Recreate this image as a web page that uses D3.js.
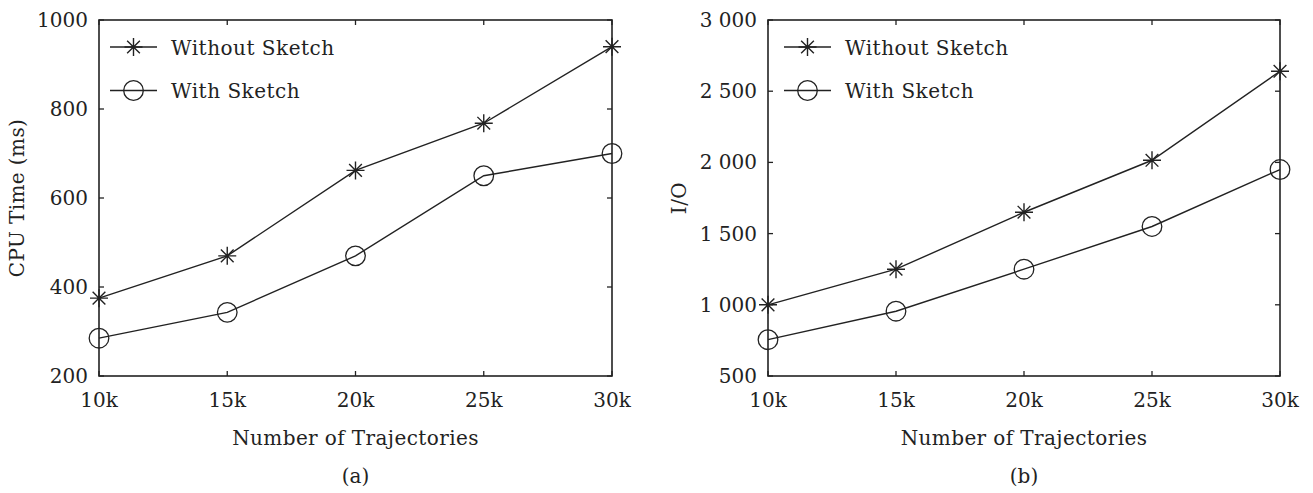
<!DOCTYPE html>
<html>
<head>
<meta charset="utf-8">
<script src="https://cdn.jsdelivr.net/npm/d3@7"></script>
<style>
  body { margin: 0; background: #fff; }
  svg { display: block; }
</style>
</head>
<body>
<div class="container"></div>
<script>
// data
const trajectories = [10, 15, 20, 25, 30]; // thousands
const cpuWithout = [375, 470, 662, 768, 940];
const cpuWith = [285, 343, 470, 650, 700];
const ioWithout = [1000, 1250, 1650, 2015, 2640];
const ioWith = [755, 955, 1250, 1550, 1950];
const cpuTicks = [200, 400, 600, 800, 1000];
const ioTicks = [500, 1000, 1500, 2000, 2500, 3000];
const xTicks = [10, 15, 20, 25, 30];
const seriesNames = ["Without Sketch", "With Sketch"];

const width = 1313;
const height = 493;
const ink = "#222";
const font = "'DejaVu Serif', 'Liberation Serif', serif";

const svg = d3.select(".container")
  .append("svg")
  .attr("width", width)
  .attr("height", height)
  .attr("font-family", font)
  .attr("fill", ink);

// numbers with a space between thousands, like "2 500"
const spaced = d3.formatLocale({ decimal: ".", thousands: " ", grouping: [3], currency: ["", ""] }).format(",d");

const panels = [
  {
    left: 99, right: 612, top: 20, bottom: 376,
    yDomain: [200, 1000], yTicks: cpuTicks, yFormat: d3.format("d"),
    series: [cpuWithout, cpuWith], yLabel: "CPU Time (ms)", yLabelX: 17,
    caption: "(a)", legendX: 110
  },
  {
    left: 768, right: 1280, top: 20, bottom: 376,
    yDomain: [500, 3000], yTicks: ioTicks, yFormat: spaced,
    series: [ioWithout, ioWith], yLabel: "I/O", yLabelX: 679,
    caption: "(b)", legendX: 784
  }
];

function starPath(r) {
  const d = r * Math.SQRT1_2;
  return `M${-r},0L${r},0M0,${-r}L0,${r}M${-d},${-d}L${d},${d}M${-d},${d}L${d},${-d}`;
}

function drawMarker(g, kind, x, y) {
  if (kind === 0) {
    g.append("path")
      .attr("transform", `translate(${x},${y})`)
      .attr("d", starPath(9))
      .attr("stroke", ink)
      .attr("stroke-width", 1.4)
      .attr("fill", "none");
  } else {
    g.append("circle")
      .attr("cx", x)
      .attr("cy", y)
      .attr("r", 9.8)
      .attr("stroke", ink)
      .attr("stroke-width", 1.3)
      .attr("fill", "none");
  }
}

panels.forEach((p) => {
  const g = svg.append("g");
  const x = d3.scaleLinear().domain([10, 30]).range([p.left, p.right]);
  const y = d3.scaleLinear().domain(p.yDomain).range([p.bottom, p.top]);
  const tick = 5;

  // frame
  g.append("rect")
    .attr("x", p.left)
    .attr("y", p.top)
    .attr("width", p.right - p.left)
    .attr("height", p.bottom - p.top)
    .attr("fill", "none")
    .attr("stroke", ink)
    .attr("stroke-width", 1.6);

  // inward ticks on all four sides
  const ticks = g.append("g").attr("stroke", ink).attr("stroke-width", 1.3);
  xTicks.forEach((t) => {
    ticks.append("line").attr("x1", x(t)).attr("x2", x(t)).attr("y1", p.bottom).attr("y2", p.bottom - tick);
    ticks.append("line").attr("x1", x(t)).attr("x2", x(t)).attr("y1", p.top).attr("y2", p.top + tick);
  });
  p.yTicks.forEach((t) => {
    ticks.append("line").attr("x1", p.left).attr("x2", p.left + tick).attr("y1", y(t)).attr("y2", y(t));
    ticks.append("line").attr("x1", p.right).attr("x2", p.right - tick).attr("y1", y(t)).attr("y2", y(t));
  });

  // tick labels
  g.append("g")
    .selectAll("text")
    .data(xTicks)
    .join("text")
    .attr("x", (d) => x(d))
    .attr("y", 407)
    .attr("text-anchor", "middle")
    .attr("font-size", 20)
    .text((d) => d + "k");

  g.append("g")
    .selectAll("text")
    .data(p.yTicks)
    .join("text")
    .attr("x", p.left - 11)
    .attr("y", (d) => y(d) + 7)
    .attr("text-anchor", "end")
    .attr("font-size", 20)
    .text((d) => p.yFormat(d));

  // axis titles and caption
  g.append("text")
    .attr("x", (p.left + p.right) / 2)
    .attr("y", 445)
    .attr("text-anchor", "middle")
    .attr("font-size", 20)
    .attr("letter-spacing", 0.4)
    .text("Number of Trajectories");

  g.append("text")
    .attr("transform", `translate(${p.yLabelX + 7},${(p.top + p.bottom) / 2}) rotate(-90)`)
    .attr("text-anchor", "middle")
    .attr("font-size", 20)
    .attr("letter-spacing", 0.4)
    .text(p.yLabel);

  g.append("text")
    .attr("x", (p.left + p.right) / 2)
    .attr("y", 483)
    .attr("text-anchor", "middle")
    .attr("font-size", 20)
    .text(p.caption);

  // series
  const line = d3.line().x((d, i) => x(trajectories[i])).y((d) => y(d));
  p.series.forEach((values, k) => {
    g.append("path")
      .datum(values)
      .attr("d", line)
      .attr("fill", "none")
      .attr("stroke", ink)
      .attr("stroke-width", 1.4);
    values.forEach((v, i) => drawMarker(g, k, x(trajectories[i]), y(v)));
  });

  // legend
  seriesNames.forEach((name, k) => {
    const ly = 47 + k * 43.5;
    g.append("line")
      .attr("x1", p.legendX)
      .attr("x2", p.legendX + 47)
      .attr("y1", ly)
      .attr("y2", ly)
      .attr("stroke", ink)
      .attr("stroke-width", 1.4);
    drawMarker(g, k, p.legendX + 23.5, ly);
    g.append("text")
      .attr("x", p.legendX + 61)
      .attr("y", ly + 7.5)
      .attr("font-size", 20)
      .attr("letter-spacing", 0.5)
      .text(name);
  });
});
</script>
</body>
</html>
